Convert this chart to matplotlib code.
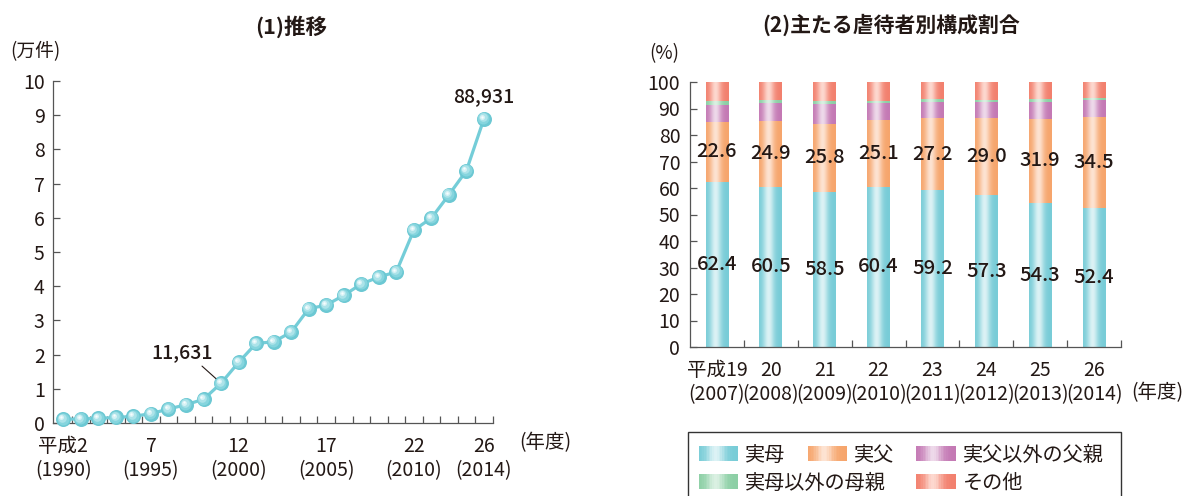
import numpy as np
import matplotlib
matplotlib.use("Agg")
import matplotlib.pyplot as plt
from matplotlib.transforms import offset_copy
from matplotlib.patches import Rectangle, Patch
from matplotlib.legend_handler import HandlerBase
from matplotlib.colors import to_rgb

plt.rcParams['font.family'] = ['Noto Sans CJK JP', 'DejaVu Sans']

# ---------------- data ----------------
years = list(range(1990, 2015))
cases = [1101, 1171, 1372, 1611, 1961, 2722, 4102, 5352, 6932, 11631,
         17725, 23274, 23738, 26569, 33408, 34472, 37323, 40639, 42664,
         44211, 56384, 59919, 66701, 73802, 88931]
left_tick_years = [1990, 1995, 2000, 2005, 2010, 2014]
left_tick_labels = ["平成2\n(1990)", "7\n(1995)", "12\n(2000)",
                    "17\n(2005)", "22\n(2010)", "26\n(2014)"]

bar_labels = ["平成19\n(2007)", "20\n(2008)", "21\n(2009)", "22\n(2010)",
              "23\n(2011)", "24\n(2012)", "25\n(2013)", "26\n(2014)"]
real_mother = [62.4, 60.5, 58.5, 60.4, 59.2, 57.3, 54.3, 52.4]
real_father = [22.6, 24.9, 25.8, 25.1, 27.2, 29.0, 31.9, 34.5]
other_father = [6.3, 6.6, 7.3, 6.4, 6.0, 6.2, 6.4, 6.3]
other_mother = [1.4, 1.3, 1.1, 1.1, 1.0, 0.8, 0.9, 0.8]
others = [7.0, 6.7, 7.0, 7.0, 6.6, 6.7, 6.5, 6.0]

series_names = ["実母", "実父", "実父以外の父親", "実母以外の母親", "その他"]
series_vals = [real_mother, real_father, other_father, other_mother, others]
series_cols = [("#78ccd7", "#dcf2f5"), ("#f6a56c", "#fde3d2"),
               ("#c479b4", "#eed9ea"), ("#8ccfa5", "#daf0e2"),
               ("#f2806e", "#fdd8cf")]

INK = "#231815"
SPINE = "#555555"


def grad(edge, light, n=64):
    t = np.linspace(0, 1, n)
    w = np.exp(-((t - 0.42) / 0.24) ** 2)
    e = np.array(to_rgb(edge))
    l = np.array(to_rgb(light))
    return e[None, :] * (1 - w[:, None]) + l[None, :] * w[:, None]


fig = plt.figure(figsize=(11.86, 4.96), dpi=100)

# ---------------- left: line chart ----------------
ax1 = fig.add_axes([53 / 1186, 1 - 423 / 496, (492.7 - 53) / 1186, (423 - 81) / 496])
y = np.array(cases) / 10000.0
lc = "#74cdd8"
ax1.plot(years, y, color=lc, lw=2.3, zorder=2, solid_capstyle='round')
layers = [(10.8, "#6cc8d3", 0.0), (8.6, "#86d5de", -0.5),
          (6.2, "#ace3e9", -1.0), (3.6, "#d7f2f5", -1.4), (1.6, "#f7fdfe", -1.6)]
for ms, c, off in layers:
    tr = offset_copy(ax1.transData, fig=fig, x=off, y=-off, units='points')
    ax1.plot(years, y, ls='none', marker='o', ms=ms, mfc=c, mec='none',
             transform=tr, zorder=3, clip_on=False)

ax1.set_xlim(1989.41, 2014.5)
ax1.set_ylim(0, 10)
ax1.set_yticks(range(0, 11))
ax1.set_xticks(left_tick_years)
ax1.set_xticklabels(left_tick_labels, linespacing=1.2)
ax1.set_xticks(np.arange(1990.5, 2015, 1.0), minor=True)
ax1.tick_params(axis='x', which='major', length=0, pad=9, labelsize=14, labelcolor=INK)
ax1.tick_params(axis='x', which='minor', direction='in', length=5, width=0.9, color=SPINE)
ax1.tick_params(axis='y', direction='in', length=5, width=0.9, color=SPINE,
                pad=6, labelsize=14, labelcolor=INK)
for s in ['top', 'right']:
    ax1.spines[s].set_visible(False)
for s in ['left', 'bottom']:
    ax1.spines[s].set_color(SPINE)
    ax1.spines[s].set_linewidth(0.9)

ax1.annotate(f"{cases[9]:,}", xy=(years[9], y[9]), xytext=(1996.8, 2.05),
             ha='center', va='center', fontsize=14, color=INK, fontweight='medium',
             arrowprops=dict(arrowstyle='-', color=INK, lw=0.8,
                             shrinkA=1, shrinkB=5, relpos=(0.75, 0.0)))
ax1.annotate(f"{cases[-1]:,}", xy=(years[-1], y[-1]), xytext=(years[-1], 9.53),
             ha='center', va='center', fontsize=14, color=INK, fontweight='medium')

fig.text(291 / 1186, 1 - 27 / 496, "(1)推移", ha='center', va='center',
         fontsize=15.5, fontweight='bold', color=INK)
fig.text(35 / 1186, 1 - 52 / 496, "(万件)", ha='center', va='center',
         fontsize=13.5, color=INK)
fig.text(545 / 1186, 1 - 443 / 496, "(年度)", ha='center', va='center',
         fontsize=14, color=INK)

# ---------------- right: stacked bars ----------------
ax2 = fig.add_axes([690 / 1186, 1 - 347 / 496, (1121 - 690) / 1186, (347 - 82) / 496])
x = np.arange(len(bar_labels))
bottom = np.zeros(len(x))
bw = 0.42
handles = []
hmap = {}


class HandlerGrad(HandlerBase):
    def __init__(self, edge, light):
        super().__init__()
        self.cols = grad(edge, light, 24)

    def create_artists(self, legend, orig_handle, xdescent, ydescent,
                       width, height, fontsize, trans):
        n = len(self.cols)
        arts = []
        for i, c in enumerate(self.cols):
            r = Rectangle((-xdescent + width * i / n, -ydescent), width / n * 1.05, height,
                          facecolor=c, edgecolor='none', transform=trans)
            arts.append(r)
        return arts


for name, vals, (edge, light) in zip(series_names, series_vals, series_cols):
    vals = np.array(vals)
    bars = ax2.bar(x, vals, bw, bottom=bottom, color=edge, linewidth=0, zorder=1)
    g = grad(edge, light)[None, :, :]
    for r in bars:
        x0, y0 = r.get_x(), r.get_y()
        ax2.imshow(g, extent=[x0, x0 + r.get_width(), y0, y0 + r.get_height()],
                   aspect='auto', interpolation='bilinear', zorder=2)
    if name in ("実母", "実父"):
        for xi, b, v in zip(x, bottom, vals):
            ax2.text(xi, b + v / 2, f"{v:.1f}", ha='center', va='center',
                     fontsize=14.5, color=INK, fontweight='medium', zorder=4)
    bottom = bottom + vals
    h = Patch(facecolor=edge, label=name)
    handles.append(h)
    hmap[h] = HandlerGrad(edge, light)

ax2.set_xlim(-0.5, 7.5)
ax2.set_ylim(0, 100)
ax2.set_yticks(range(0, 101, 10))
ax2.set_xticks(x)
ax2.set_xticklabels(bar_labels, linespacing=1.2)
ax2.set_xticks(np.arange(0.5, 8, 1.0), minor=True)
ax2.tick_params(axis='x', which='major', length=0, pad=9, labelsize=14, labelcolor=INK)
ax2.tick_params(axis='x', which='minor', direction='in', length=5, width=0.9, color=SPINE)
ax2.tick_params(axis='y', direction='in', length=5, width=0.9, color=SPINE,
                pad=7, labelsize=14, labelcolor=INK)
for s in ['top', 'right']:
    ax2.spines[s].set_visible(False)
for s in ['left', 'bottom']:
    ax2.spines[s].set_color(SPINE)
    ax2.spines[s].set_linewidth(0.9)

fig.text(891 / 1186, 1 - 25 / 496, "(2)主たる虐待者別構成割合", ha='center', va='center',
         fontsize=15, fontweight='bold', color=INK)
fig.text(664 / 1186, 1 - 54 / 496, "(%)", ha='center', va='center',
         fontsize=13.5, color=INK)
fig.text(1157 / 1186, 1 - 393 / 496, "(年度)", ha='center', va='center',
         fontsize=14, color=INK)

# ---------------- legend ----------------
leg_kw = dict(frameon=False, fontsize=14.5, handlelength=1.95, handleheight=0.8,
              handletextpad=0.35, borderpad=0, borderaxespad=0, labelcolor=INK)
row1 = [handles[0], handles[1], handles[2]]
row2 = [handles[3], handles[4]]
l1 = fig.legend(row1, [h.get_label() for h in row1], ncol=3, loc='center left',
                bbox_to_anchor=(699 / 1186, 1 - 455 / 496), columnspacing=1.1,
                handler_map=hmap, **leg_kw)
l2 = fig.legend(row2, [h.get_label() for h in row2], ncol=2, loc='center left',
                bbox_to_anchor=(699 / 1186, 1 - 483 / 496), columnspacing=1.5,
                handler_map=hmap, **leg_kw)
fig.patches.append(Rectangle((688 / 1186, -0.05), (1121 - 688) / 1186, 0.05 + (496 - 432) / 496,
                             transform=fig.transFigure, facecolor='none',
                             edgecolor='#333333', lw=1.0))

fig.savefig("out.png", dpi=100)
